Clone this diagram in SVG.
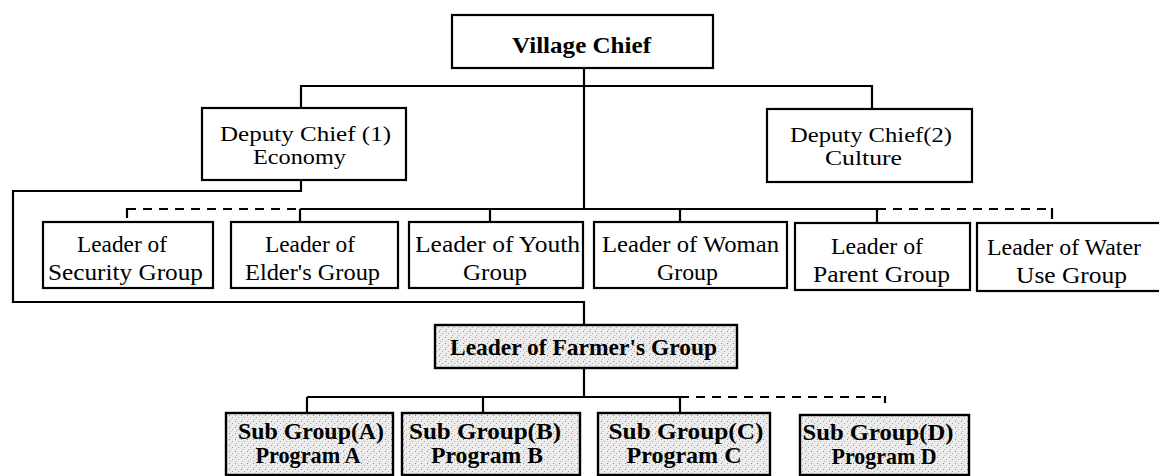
<svg xmlns="http://www.w3.org/2000/svg" width="1159" height="476" viewBox="0 0 1159 476">
<style>
.box{fill:#ffffff;stroke:#000;stroke-width:2.2}
.gbox{fill:url(#stip);stroke:#000;stroke-width:2.4}
.ln{fill:none;stroke:#000;stroke-width:2.2}
.dash{fill:none;stroke:#000;stroke-width:2;stroke-dasharray:9 7}
text{font-family:"Liberation Serif","Times New Roman",serif;font-size:24px;fill:#000}
.d{font-size:22px}
.b{font-weight:bold}
.m{text-anchor:middle}
</style>
<defs>
<pattern id="stip" width="6" height="6" patternUnits="userSpaceOnUse">
<rect width="6" height="6" fill="#ececec"/>
<rect x="1" y="1" width="1" height="1" fill="#8c8c8c"/>
<rect x="4" y="3" width="1" height="1" fill="#a8a8a8"/>
<rect x="2" y="5" width="1" height="1" fill="#b4b4b4"/>
</pattern>
</defs>
<rect width="1159" height="476" fill="#ffffff"/>
<g id="connectors">
<path class="ln" d="M584,68 V209"/>
<path class="ln" d="M301,108 V86 H872 V109"/>
<path class="ln" d="M300,209 H877 M300,209 V222 M490,209 V222 M680,209 V222 M877,209 V223"/>
<path class="dash" d="M127,209 H300"/>
<path class="ln" d="M127,208 V218"/>
<path class="dash" d="M877,209 H1052"/>
<path class="ln" d="M1052,208 V219"/>
<path class="ln" d="M301,180 V191 H13 V302 H584 V325"/>
<path class="ln" d="M584,368 V397 M307,397 H680 M307,397 V413 M483,397 V413 M680,397 V413"/>
<path class="dash" d="M680,397 H885"/>
<path class="ln" d="M885,396 V403"/>
</g>
<g id="village-chief">
<rect class="box" x="452" y="15" width="261" height="53"/>
<text class="b" x="512" y="53" textLength="139" lengthAdjust="spacingAndGlyphs">Village Chief</text>
</g>
<g id="deputy-chief-1">
<rect class="box" x="202" y="108" width="204" height="72"/>
<text class="d" x="220" y="141" textLength="171" lengthAdjust="spacingAndGlyphs">Deputy Chief (1)</text>
<text class="d" x="253" y="164" textLength="93" lengthAdjust="spacingAndGlyphs">Economy</text>
</g>
<g id="deputy-chief-2">
<rect class="box" x="767" y="109" width="205" height="73"/>
<text class="d" x="790" y="142" textLength="162" lengthAdjust="spacingAndGlyphs">Deputy Chief(2)</text>
<text class="d" x="825" y="165" textLength="77" lengthAdjust="spacingAndGlyphs">Culture</text>
</g>
<g id="security-group">
<rect class="box" x="43" y="222" width="170" height="66"/>
<text x="77" y="252" textLength="90" lengthAdjust="spacingAndGlyphs">Leader of</text>
<text x="48" y="280" textLength="155" lengthAdjust="spacingAndGlyphs">Security Group</text>
</g>
<g id="elders-group">
<rect class="box" x="231" y="222" width="167" height="66"/>
<text x="265" y="252" textLength="90" lengthAdjust="spacingAndGlyphs">Leader of</text>
<text x="245" y="280" textLength="135" lengthAdjust="spacingAndGlyphs">Elder's Group</text>
</g>
<g id="youth-group">
<rect class="box" x="409" y="222" width="174" height="66"/>
<text x="415" y="252" textLength="165" lengthAdjust="spacingAndGlyphs">Leader of Youth</text>
<text x="463" y="280" textLength="64" lengthAdjust="spacingAndGlyphs">Group</text>
</g>
<g id="woman-group">
<rect class="box" x="594" y="222" width="193" height="66"/>
<text x="602" y="252" textLength="177" lengthAdjust="spacingAndGlyphs">Leader of Woman</text>
<text x="657" y="280" textLength="61" lengthAdjust="spacingAndGlyphs">Group</text>
</g>
<g id="parent-group">
<rect class="box" x="795" y="223" width="175" height="67"/>
<text x="831" y="254" textLength="92" lengthAdjust="spacingAndGlyphs">Leader of</text>
<text x="813" y="282" textLength="137" lengthAdjust="spacingAndGlyphs">Parent Group</text>
</g>
<g id="water-use-group">
<rect class="box" x="977" y="223" width="200" height="68"/>
<text x="987" y="255" textLength="154" lengthAdjust="spacingAndGlyphs">Leader of Water</text>
<text x="1016" y="283" textLength="111" lengthAdjust="spacingAndGlyphs">Use Group</text>
</g>
<g id="farmers-group">
<rect class="gbox" x="435" y="325" width="302" height="43"/>
<text class="b" x="450" y="355" textLength="267" lengthAdjust="spacingAndGlyphs">Leader of Farmer's Group</text>
</g>
<g id="sub-group-a">
<rect class="gbox" x="226" y="413" width="167" height="62"/>
<text class="b m" x="311" y="439" textLength="146" lengthAdjust="spacingAndGlyphs">Sub Group(A)</text>
<text class="b m" x="308" y="463" textLength="105" lengthAdjust="spacingAndGlyphs">Program A</text>
</g>
<g id="sub-group-b">
<rect class="gbox" x="402" y="413" width="178" height="62"/>
<text class="b m" x="485" y="439" textLength="152" lengthAdjust="spacingAndGlyphs">Sub Group(B)</text>
<text class="b m" x="487" y="463" textLength="112" lengthAdjust="spacingAndGlyphs">Program B</text>
</g>
<g id="sub-group-c">
<rect class="gbox" x="598" y="413" width="172" height="62"/>
<text class="b m" x="686" y="439" textLength="155" lengthAdjust="spacingAndGlyphs">Sub Group(C)</text>
<text class="b m" x="684" y="463" textLength="115" lengthAdjust="spacingAndGlyphs">Program C</text>
</g>
<g id="sub-group-d">
<rect class="gbox" x="800" y="415" width="169" height="60"/>
<text class="b m" x="878" y="440" textLength="151" lengthAdjust="spacingAndGlyphs">Sub Group(D)</text>
<text class="b m" x="884" y="464" textLength="105" lengthAdjust="spacingAndGlyphs">Program D</text>
</g>
</svg>
